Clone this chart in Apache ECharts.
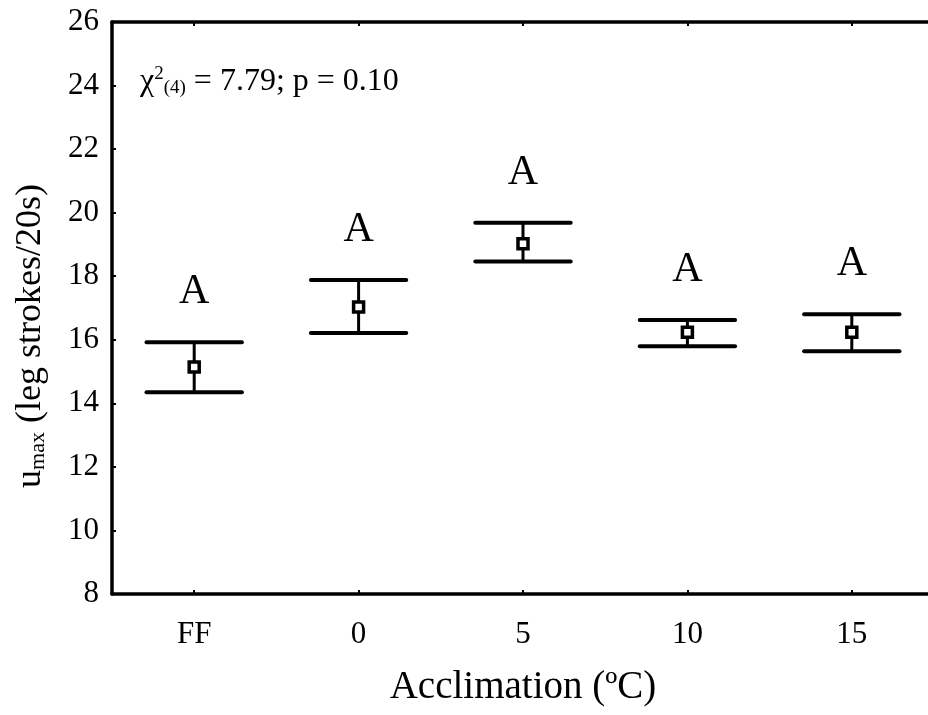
<!DOCTYPE html>
<html>
<head>
<meta charset="utf-8">
<script src="https://cdn.jsdelivr.net/npm/echarts@6/dist/echarts.min.js"></script>
<style>
  html, body { margin: 0; padding: 0; background: #fff; }
  #chart { width: 928px; height: 715px; }
</style>
</head>
<body>
<div id="chart"></div>
<script>
// acclimation groups
const categories = ["FF", "0", "5", "10", "15"];
// mean u_max and the error bar limits
const means = [15.14, 17.03, 19.02, 16.24, 16.24];
const lower = [14.35, 16.21, 18.46, 15.80, 15.64];
const upper = [15.92, 17.88, 19.68, 16.62, 16.80];
// post-hoc group letters
const letters = ["A", "A", "A", "A", "A"];

const FONT = '"Liberation Serif", "Times New Roman", serif';

const chart = echarts.init(document.getElementById("chart"));

const axisLine = { show: true, lineStyle: { color: "#000", width: 3.5 } };
const axisTick = { show: true, inside: true, length: 4, lineStyle: { color: "#000", width: 2 } };

chart.setOption({
  animation: false,
  backgroundColor: "#fff",
  // the frame runs past the right edge of the picture
  grid: { left: 112, width: 822, top: 22, bottom: 121, outerBoundsMode: "none", containLabel: false },
  xAxis: [
    {
      type: "category",
      data: categories,
      position: "bottom",
      axisLine: axisLine,
      axisTick: Object.assign({ alignWithLabel: true }, axisTick),
      axisLabel: { color: "#000", fontFamily: FONT, fontSize: 31, margin: 25 },
      splitLine: { show: false },
      name: "Acclimation (ºC)",
      nameLocation: "middle",
      nameGap: 74,
      nameTextStyle: { color: "#000", fontFamily: FONT, fontSize: 39 }
    },
    {
      type: "category",
      data: categories,
      position: "top",
      axisLine: axisLine,
      axisTick: Object.assign({ alignWithLabel: true }, axisTick),
      axisLabel: { show: false },
      splitLine: { show: false }
    }
  ],
  yAxis: [
    {
      type: "value",
      min: 8,
      max: 26,
      interval: 2,
      position: "left",
      axisLine: axisLine,
      axisTick: axisTick,
      axisLabel: { color: "#000", fontFamily: FONT, fontSize: 31, margin: 13 },
      splitLine: { show: false }
    },
    {
      type: "value",
      min: 8,
      max: 26,
      interval: 2,
      position: "right",
      axisLine: axisLine,
      axisTick: axisTick,
      axisLabel: { show: false },
      splitLine: { show: false }
    }
  ],
  graphic: [
    {
      type: "text",
      x: 31,
      y: 336,
      rotation: Math.PI / 2,
      style: {
        text: "{b|u}{s|max}{b| (leg strokes/20s)}",
        align: "center",
        verticalAlign: "middle",
        fill: "#000",
        rich: {
          b: { fontFamily: FONT, fontSize: 36, color: "#000" },
          s: { fontFamily: FONT, fontSize: 22, color: "#000", padding: [14, 0, 0, 0] }
        }
      }
    },
    {
      type: "text",
      x: 140,
      y: 82,
      style: {
        text: "{b|χ}{sup|2}{sub|(4)}{b| = 7.79; p = 0.10}",
        align: "left",
        verticalAlign: "middle",
        fill: "#000",
        rich: {
          b: { fontFamily: FONT, fontSize: 32, color: "#000" },
          sup: { fontFamily: FONT, fontSize: 19, color: "#000", padding: [0, 0, 15, 0] },
          sub: { fontFamily: FONT, fontSize: 19, color: "#000", padding: [13, 0, 0, 0] }
        }
      }
    }
  ],
  series: [
    {
      type: "custom",
      xAxisIndex: 0,
      yAxisIndex: 0,
      z: 2,
      data: categories.map((c, i) => [i, lower[i], upper[i]]),
      renderItem: function (params, api) {
        const x = api.value(0);
        const hi = api.coord([x, api.value(2)]);
        const lo = api.coord([x, api.value(1)]);
        const half = api.size([1, 0])[0] * 0.29;
        const cap = { stroke: "#000", lineWidth: 4, lineCap: "round" };
        return {
          type: "group",
          children: [
            { type: "line", shape: { x1: hi[0] - half, y1: hi[1], x2: hi[0] + half, y2: hi[1] }, style: cap },
            { type: "line", shape: { x1: lo[0] - half, y1: lo[1], x2: lo[0] + half, y2: lo[1] }, style: cap },
            { type: "line", shape: { x1: hi[0], y1: hi[1], x2: lo[0], y2: lo[1] }, style: { stroke: "#000", lineWidth: 3 } },
            {
              type: "text",
              style: {
                text: letters[params.dataIndex],
                x: hi[0],
                y: hi[1] - 50,
                font: '42px "Liberation Serif"',
                align: "center",
                verticalAlign: "middle",
                textAlign: "center",
                textVerticalAlign: "middle",
                fill: "#000"
              }
            }
          ]
        };
      }
    },
    {
      type: "scatter",
      xAxisIndex: 0,
      yAxisIndex: 0,
      z: 5,
      symbol: "rect",
      symbolSize: 10,
      itemStyle: { color: "#fff", borderColor: "#000", borderWidth: 3.5, opacity: 1 },
      data: means
    }
  ]
});
</script>
</body>
</html>
